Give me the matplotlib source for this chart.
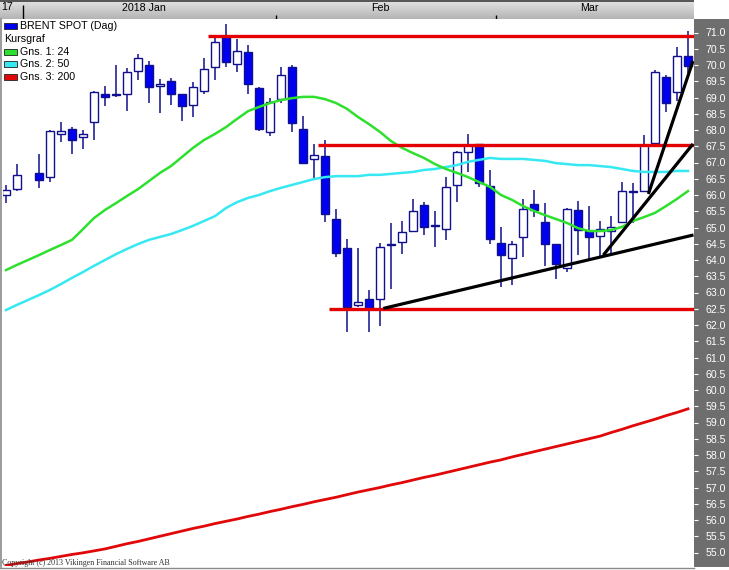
import matplotlib.pyplot as plt
import numpy as np
import pandas as pd
from matplotlib.colors import LinearSegmentedColormap
from matplotlib.lines import Line2D
from matplotlib.patches import Rectangle

# daily Brent spot candles, one slot per weekday (Jan 1 has no trade)
dates = pd.bdate_range("2017-12-28", "2018-03-26")
opens = [66.00, 66.18, np.nan, 66.68, 66.54, 67.88, 68.03, 67.78, 68.24, 69.11,
         69.08, 69.12, 69.81, 70.00, 69.34, 69.50, 69.10, 68.76, 69.21, 69.95,
         70.90, 70.02, 70.39, 69.28, 67.93, 68.94, 69.93, 68.02, 67.10, 67.20,
         65.26, 64.36, 62.61, 62.79, 62.79, 64.47, 64.56, 64.88, 65.69, 65.09,
         64.94, 66.30, 67.31, 67.56, 66.28, 64.53, 64.05, 64.70, 65.72, 65.17,
         64.50, 63.75, 65.53, 64.88, 64.73, 64.88, 65.18, 66.12, 66.12, 67.61,
         69.63, 69.16, 70.27]
highs = [66.31, 66.95, np.nan, 67.26, 67.99, 68.24, 68.09, 68.01, 69.20, 69.35,
         70.00, 69.92, 70.34, 70.11, 69.56, 69.61, 69.10, 69.48, 70.22, 70.90,
         71.25, 70.79, 70.62, 69.33, 68.98, 69.93, 70.00, 68.43, 67.56, 67.68,
         65.56, 64.64, 64.38, 63.07, 64.53, 65.13, 65.21, 65.89, 65.78, 65.51,
         66.54, 67.35, 67.89, 67.56, 66.76, 65.02, 64.58, 65.89, 66.15, 65.74,
         64.50, 65.61, 65.82, 65.66, 65.20, 65.35, 66.41, 66.38, 67.85, 69.86,
         69.69, 70.55, 71.05]
lows = [65.75, 66.13, np.nan, 66.22, 66.41, 67.63, 67.27, 67.42, 67.70, 68.75,
        69.02, 68.59, 69.55, 68.84, 68.53, 68.78, 68.29, 68.39, 69.12, 69.55,
        69.95, 69.79, 69.10, 67.98, 67.82, 68.82, 67.95, 66.96, 66.53, 65.16,
        64.10, 61.78, 62.56, 61.78, 61.98, 63.11, 64.19, 64.88, 64.77, 64.41,
        64.62, 65.79, 66.72, 66.24, 64.50, 63.18, 63.23, 64.10, 65.31, 63.82,
        63.41, 63.64, 64.15, 64.03, 64.09, 64.18, 65.18, 65.15, 66.12, 67.48,
        68.56, 68.89, 69.74]
closes = [66.15, 66.61, np.nan, 66.47, 67.96, 67.96, 67.70, 67.88, 69.17, 69.01,
          69.10, 69.78, 70.22, 69.31, 69.42, 69.12, 68.73, 69.32, 69.87, 70.70,
          70.10, 70.44, 69.41, 68.02, 68.85, 69.68, 68.21, 66.98, 67.22, 65.42,
          64.22, 62.56, 62.71, 62.53, 64.39, 64.49, 64.85, 65.50, 65.02, 65.06,
          66.24, 67.31, 67.54, 66.38, 64.64, 64.16, 64.50, 65.56, 65.55, 64.50,
          63.87, 65.57, 64.92, 64.70, 64.96, 65.02, 66.11, 66.08, 67.55, 69.78,
          68.82, 70.27, 69.98]

# moving averages (Gns. 1: 24, Gns. 2: 50, Gns. 3: 200)
ma24 = [63.69, 63.85, 64.00, 64.15, 64.31, 64.46, 64.62, 64.95, 65.29, 65.54,
        65.75, 65.97, 66.18, 66.43, 66.68, 66.89, 67.17, 67.45, 67.69, 67.88,
        68.09, 68.34, 68.58, 68.71, 68.83, 68.92, 68.98, 69.02, 69.02, 68.95,
        68.83, 68.65, 68.40, 68.18, 67.94, 67.66, 67.45, 67.29, 67.14, 66.95,
        66.80, 66.68, 66.55, 66.40, 66.25, 66.00, 65.85, 65.66, 65.51, 65.38,
        65.26, 65.14, 64.98, 64.89, 64.89, 64.92, 65.02, 65.20, 65.32, 65.45,
        65.66, 65.88, 66.12]
ma50 = [62.46, 62.62, 62.77, 62.92, 63.08, 63.26, 63.45, 63.63, 63.82, 64.00,
        64.18, 64.34, 64.49, 64.62, 64.71, 64.80, 64.92, 65.05, 65.20, 65.35,
        65.60, 65.78, 65.91, 66.00, 66.12, 66.22, 66.31, 66.40, 66.49, 66.55,
        66.58, 66.58, 66.58, 66.62, 66.62, 66.65, 66.68, 66.71, 66.77, 66.80,
        66.86, 66.92, 67.02, 67.08, 67.14, 67.11, 67.11, 67.11, 67.08, 67.05,
        66.98, 66.95, 66.92, 66.92, 66.89, 66.86, 66.80, 66.74, 66.71, 66.71,
        66.71, 66.74, 66.74]
ma200 = [54.60, 54.66, 54.71, 54.77, 54.82, 54.88, 54.94, 54.99, 55.05, 55.11,
         55.19, 55.27, 55.34, 55.42, 55.50, 55.58, 55.66, 55.74, 55.81, 55.89,
         55.96, 56.03, 56.11, 56.18, 56.26, 56.33, 56.41, 56.48, 56.56, 56.63,
         56.70, 56.78, 56.86, 56.93, 57.00, 57.08, 57.15, 57.23, 57.31, 57.38,
         57.46, 57.54, 57.62, 57.70, 57.78, 57.85, 57.94, 58.02, 58.10, 58.18,
         58.26, 58.34, 58.42, 58.50, 58.58, 58.69, 58.79, 58.90, 59.00, 59.10,
         59.21, 59.31, 59.42]

# drawn support/resistance: (start slot, price)
levels = [(18.4, 70.89), (28.4, 67.55), (29.4, 62.48)]
# drawn trend lines: (start slot, start price, end slot, end price)
trends = [(34.3, 62.51, 62.5, 64.77),
          (54.3, 64.15, 62.45, 67.57),
          (58.4, 66.03, 62.45, 70.12)]

W, H = 729, 570
SLOT, X0 = 11.0, 6.0          # pixels per weekday, centre of first slot
PPU, TOP = 32.5, 72.0         # pixels per dollar, price at pixel row 0
NAVY, BLUE = "#10108c", "#0000f0"
FONT = "Liberation Sans"


def box(x0, y0, x1, y1):
    return [x0 / W, 1 - y1 / H, (x1 - x0) / W, (y1 - y0) / H]


def slot(px):
    return (px - X0) / SLOT


def price(py):
    return TOP - py / PPU


fig = plt.figure(figsize=(W / 100, H / 100), dpi=100)
fig.patch.set_facecolor("white")

panel = fig.add_axes(box(694, 19, 729, 567))
panel.set_facecolor("#6e6e6e")
panel.set_xticks([])
panel.set_yticks([])
for s in panel.spines.values():
    s.set_visible(False)

ax = fig.add_axes(box(3, 20, 694, 566))
ax.set_zorder(2)
ax.set_xlim(slot(3), slot(694))
ax.set_ylim(price(566), price(20))
for s in ax.spines.values():
    s.set_visible(False)
ax.set_xticks([])
ax.yaxis.tick_right()
yt = np.arange(55.0, 71.01, 0.5)
ax.set_yticks(yt)
ax.set_yticklabels([f"{v:.1f}" for v in yt], fontfamily=FONT, fontsize=7.6)
ax.tick_params(axis="y", direction="out", length=2.6, width=0.8,
               color="white", labelcolor="white", pad=5.5)

x = np.arange(len(dates))
o, h, l, c = (np.array(a, dtype=float) for a in (opens, highs, lows, closes))
ok = ~np.isnan(o)
up = ok & (c >= o)
dn = ok & (c < o)

ax.vlines(x[ok], l[ok], h[ok], color=NAVY, lw=1.1, zorder=2)
ax.bar(x[up], np.maximum(c[up] - o[up], 0.02), bottom=o[up], width=0.74,
       facecolor="white", edgecolor=NAVY, lw=1.0, zorder=3)
ax.bar(x[dn], np.maximum(o[dn] - c[dn], 0.02), bottom=c[dn], width=0.74,
       facecolor=BLUE, edgecolor=NAVY, lw=1.0, zorder=3)

ax.plot(x, ma200, color="#e00808", lw=2.0, zorder=4)
ax.plot(x, ma50, color="#35e8f2", lw=1.8, zorder=4)
ax.plot(x, ma24, color="#2ee02e", lw=1.8, zorder=4)

x_end = slot(694)
for start, lvl in levels:
    ax.plot([start, x_end], [lvl, lvl], color="#e40000", lw=2.4, zorder=5,
            solid_capstyle="butt")
for x1, p1, x2, p2 in trends:
    ax.plot([x1, x2], [p1, p2], color="black", lw=2.3, zorder=5,
            solid_capstyle="butt")

# time bar across the top
bar = fig.add_axes(box(0, 0, 694, 19))
bar.set_xlim(slot(0), slot(694))
bar.set_ylim(19, 0)
grad = np.linspace(0, 1, 40).reshape(-1, 1)
bar.imshow(grad, cmap=LinearSegmentedColormap.from_list("bar", ["#e4e4e4", "#b4b4b4"]),
           aspect="auto", extent=(slot(0), slot(694), 19, 0))
bar.axhline(0.5, color="#3c3c3c", lw=1.2)
bar.set_xticks([])
bar.set_yticks([])
for s in bar.spines.values():
    s.set_visible(False)

starts = [i for i in range(1, len(dates)) if dates[i].month != dates[i - 1].month]
bounds = starts + [len(dates)]
for k, i in enumerate(starts):
    new_year = dates[i].month == 1
    bar.vlines(i - 0.5, 5 if new_year else 15, 18.5, color="black", lw=1.0)
    mid = (i - 0.5 + bounds[k + 1] - 1.5) / 2
    label = dates[i].strftime("%Y %b") if new_year else dates[i].strftime("%b")
    bar.text(mid, 8, label, ha="center", va="center", fontfamily=FONT,
             fontsize=7.7, color="black")
bar.text(slot(1), 7.5, dates[0].strftime("%y"), ha="left", va="center",
         fontfamily=FONT, fontsize=7.7, color="black")

# legend block
entries = [("BRENT SPOT (Dag)", BLUE), ("Kursgraf", None),
           ("Gns. 1: 24", "#2ee02e"), ("Gns. 2: 50", "#35e8f2"),
           ("Gns. 3: 200", "#e00808")]
for k, (txt, col) in enumerate(entries):
    yc = 26 + k * 12.8
    if col is not None:
        fig.add_artist(Rectangle((4 / W, 1 - (yc + 3) / H), 13 / W, 6 / H,
                                 transform=fig.transFigure, facecolor=col,
                                 edgecolor="#202020", lw=0.6, zorder=6))
        tx = 20.5
    else:
        tx = 4
    fig.text(tx / W, 1 - yc / H, txt, ha="left", va="center", fontfamily=FONT,
             fontsize=7.7, color="black", zorder=6)

fig.text(2 / W, 1 - 563 / H, "Copyright (c) 2013 Vikingen Financial Software AB",
         ha="left", va="center", fontfamily="Liberation Serif", fontsize=5.8,
         color="#303030", zorder=6)

fig.add_artist(Line2D([1 / W, 1 / W], [1 - 567 / H, 1 - 19 / H],
                      transform=fig.transFigure, color="#8a8a8a", lw=1.2))
fig.add_artist(Line2D([0, 694 / W], [1 - 567.5 / H, 1 - 567.5 / H],
                      transform=fig.transFigure, color="#8a8a8a", lw=1.0))

fig.savefig("out.png", dpi=100)
